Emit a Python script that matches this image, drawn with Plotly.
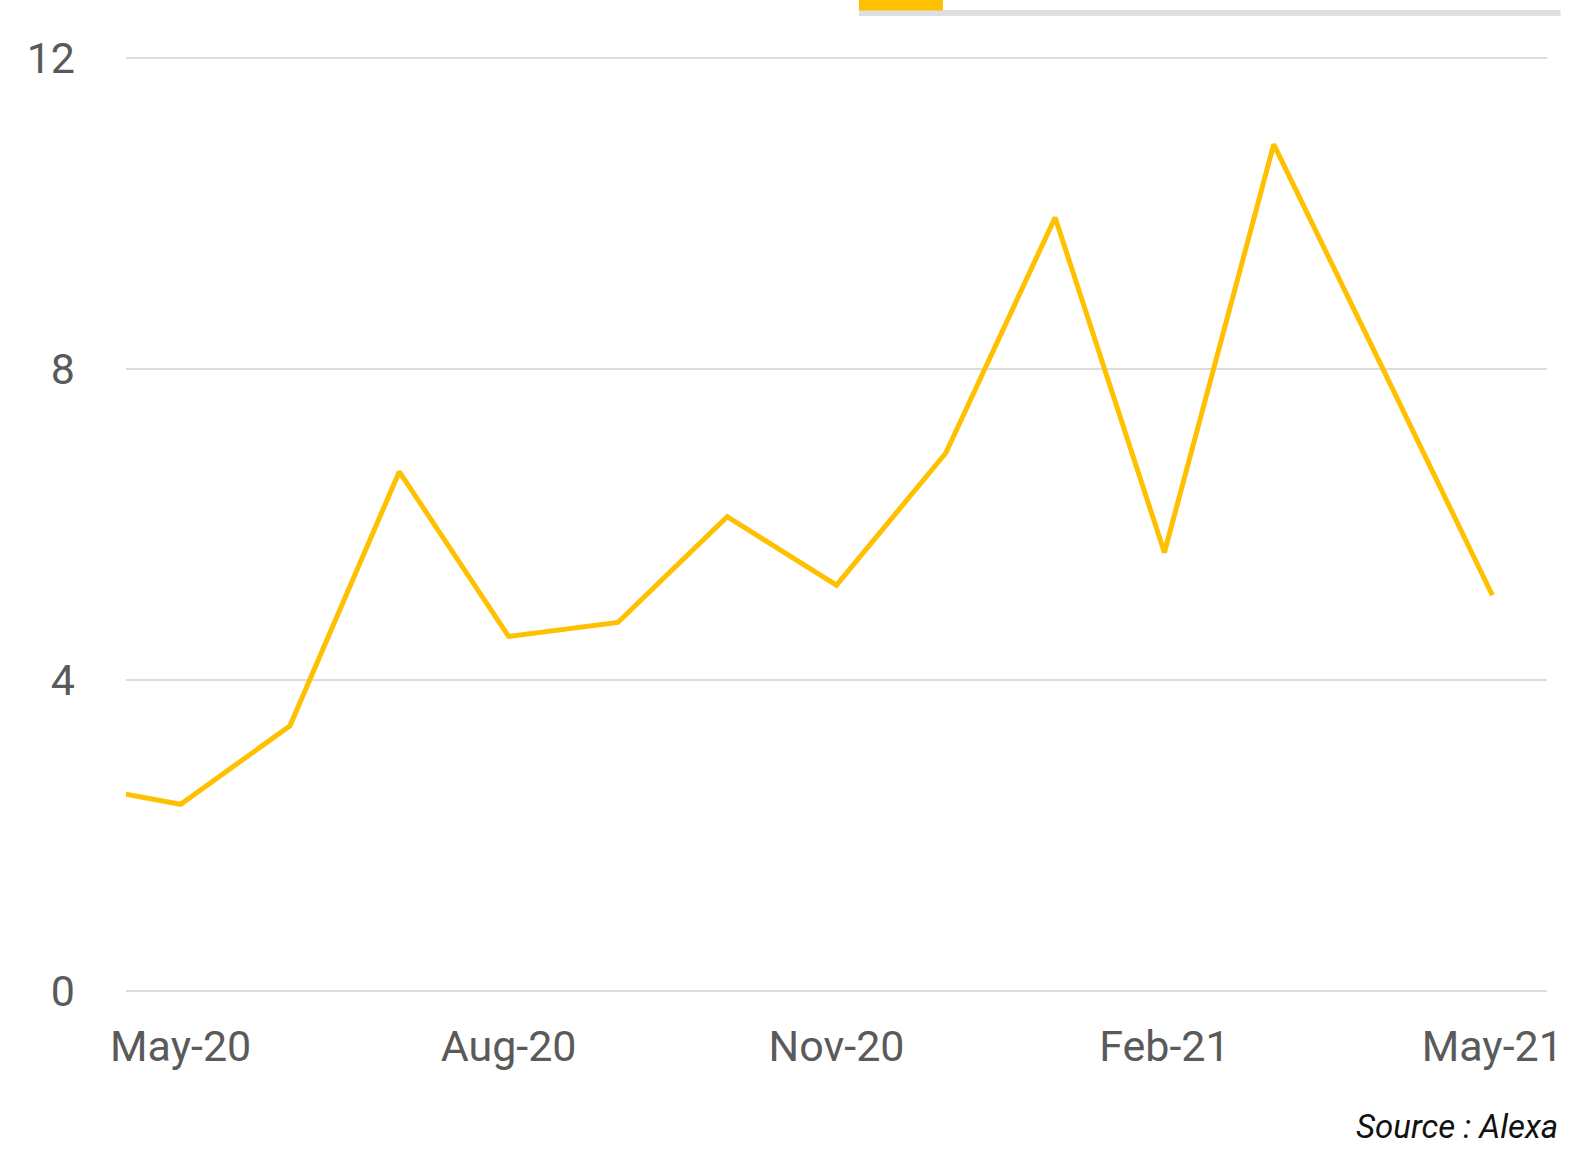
import plotly.graph_objects as go

months = ["Apr-20", "May-20", "Jun-20", "Jul-20", "Aug-20", "Sep-20", "Oct-20",
          "Nov-20", "Dec-20", "Jan-21", "Feb-21", "Mar-21", "Apr-21", "May-21"]
values = [2.66, 2.40, 3.41, 6.68, 4.56, 4.74, 6.10, 5.22, 6.92, 9.95,
          5.64, 10.89, 8.0, 5.09]
tick_text = ["May-20", "Aug-20", "Nov-20", "Feb-21", "May-21"]
y_ticks = [0, 4, 8, 12]

W, H = 1588, 1154
L, R, T, B = 125.6, 1547.5, 57.7, 990.5
PAD = 0.04  # small y-range padding so edge gridlines are drawn
unit = (B - T) / 12.0
T2, B2 = T - PAD * unit, B + PAD * unit

def px(x):
    return (x - L) / (R - L)

def py(y):
    return (B2 - y) / (B2 - T2)

fig = go.Figure()
fig.add_trace(go.Scatter(
    x=months, y=values, mode="lines",
    line=dict(color="#FFC000", width=5),
    hoverinfo="skip", showlegend=False,
))

font_fam = "Roboto, 'Liberation Sans', sans-serif"
fig.update_layout(
    width=W, height=H,
    margin=dict(l=L, r=W - R, t=T2, b=H - B2, pad=0),
    paper_bgcolor="white", plot_bgcolor="white",
    font=dict(family=font_fam, color="#5a5a5a", size=43),
    xaxis=dict(
        type="category", categoryorder="array", categoryarray=months,
        range=[0.5, 13.5],
        tickvals=tick_text, ticktext=tick_text,
        showgrid=False, zeroline=False, showline=False, ticks="",
        ticklabelstandoff=23,
        tickfont=dict(size=43, color="#5a5a5a"),
    ),
    yaxis=dict(
        range=[-PAD, 12 + PAD], tickvals=y_ticks,
        showgrid=True, gridcolor="#dcdcdc", gridwidth=2,
        zeroline=False, showline=False, ticks="",
        ticklabelstandoff=50,
        tickfont=dict(size=43, color="#5a5a5a"),
    ),
    shapes=[
        dict(type="rect", xref="paper", yref="paper",
             x0=px(859), x1=px(1561), y0=py(15.5), y1=py(9.5),
             fillcolor="#dedfe1", line=dict(width=0), layer="above"),
        dict(type="rect", xref="paper", yref="paper",
             x0=px(859), x1=px(943), y0=py(10), y1=py(-5),
             fillcolor="#FFC000", line=dict(width=0), layer="above"),
    ],
    annotations=[
        dict(text="<i>Source : Alexa</i>", xref="paper", yref="paper",
             x=px(1561), y=py(1126), xanchor="right", yanchor="middle",
             showarrow=False,
             font=dict(family=font_fam, size=33, color="#111111")),
    ],
)

fig.write_html("out.html", config={"displayModeBar": False},
               post_script="document.body.style.margin='0';")
